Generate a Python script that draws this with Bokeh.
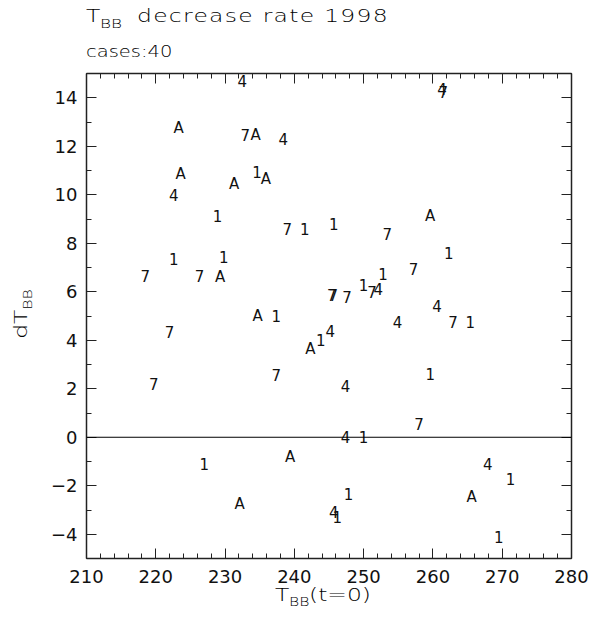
from bokeh.plotting import figure
from bokeh.models import Range1d, LinearAxis, FixedTicker, Span, ColumnDataSource, Div
from bokeh.layouts import column
from bokeh.core.properties import value
from bokeh.embed import file_html
from bokeh.resources import INLINE

# ---- data ----
x_1 = [234.6, 228.9, 241.5, 245.7, 262.3, 222.6, 229.8, 237.4, 243.8, 250.0,
       252.8, 265.4, 259.6, 250.0, 227.0, 247.8, 246.2, 271.2, 269.5]
y_1 = [10.93, 9.14, 8.6, 8.8, 7.58, 7.36, 7.42, 5.02, 3.99, 6.26,
       6.74, 4.74, 2.61, 0.0, -1.09, -2.33, -3.3, -1.71, -4.12]

x_4 = [232.5, 261.3, 238.4, 222.6, 245.2, 252.1, 260.6, 254.9, 247.4, 247.4, 245.7, 267.9]
y_4 = [14.71, 14.38, 12.3, 9.97, 4.4, 6.12, 5.43, 4.74, 2.13, 0.0, -3.09, -1.09]

x_7 = [261.5, 232.9, 238.96, 253.4, 218.5, 226.3, 222.0, 219.7, 237.4, 245.4,
       245.6, 247.6, 251.2, 257.2, 262.9, 258.0]
y_7 = [14.25, 12.45, 8.6, 8.39, 6.67, 6.67, 4.33, 2.2, 2.55, 5.85,
       5.87, 5.78, 5.98, 6.95, 4.74, 0.55]

x_A = [223.3, 234.4, 223.6, 231.3, 235.9, 259.6, 229.3, 234.7, 242.3, 239.4, 232.1, 265.6]
y_A = [12.77, 12.45, 10.86, 10.45, 10.66, 9.13, 6.6, 5.02, 3.65, -0.82, -2.74, -2.47]

x_ticks = [210, 220, 230, 240, 250, 260, 270, 280]
x_minor = list(range(210, 281, 2))
y_ticks = [-4, -2, 0, 2, 4, 6, 8, 10, 12, 14]
y_minor = list(range(-5, 16))

title_main = "decrease rate 1998"
title_var = "T"
title_sub = "BB"
subtitle = "cases:40"
xlabel_main, xlabel_sub, xlabel_tail = "T", "BB", "(t=0)"
ylabel_main, ylabel_sub = "dT", "BB"

FONT = "DejaVu Sans"
INK = "#111111"
W, H = 593, 626

p = figure(width=W, height=H, output_backend="svg", toolbar_location=None,
           x_range=Range1d(210, 280), y_range=Range1d(-5, 15),
           min_border_left=86, min_border_right=22, min_border_top=73, min_border_bottom=68,
           x_axis_location=None, y_axis_location=None)
p.xgrid.visible = False
p.ygrid.visible = False
p.outline_line_color = None
p.background_fill_color = "white"
p.border_fill_color = "white"

def style_axis(ax, ticks, minor, show_labels, standoff):
    ax.ticker = FixedTicker(ticks=ticks, minor_ticks=minor)
    ax.axis_line_color = "#222222"
    ax.axis_line_width = 1.5
    ax.major_tick_line_color = "#222222"
    ax.minor_tick_line_color = "#222222"
    ax.major_tick_in = 10
    ax.major_tick_out = 0
    ax.minor_tick_in = 5
    ax.minor_tick_out = 0
    ax.major_label_text_font = FONT
    ax.major_label_text_color = INK
    ax.major_label_text_font_size = "18px" if show_labels else "0px"
    ax.major_label_standoff = standoff
    if not show_labels:
        ax.major_label_text_alpha = 0

ax_b = LinearAxis(); style_axis(ax_b, x_ticks, x_minor, True, 11); p.add_layout(ax_b, "below")
ax_t = LinearAxis(); style_axis(ax_t, x_ticks, x_minor, False, 0); p.add_layout(ax_t, "above")
ax_l = LinearAxis(); style_axis(ax_l, y_ticks, y_minor, True, 9); p.add_layout(ax_l, "left")
ax_r = LinearAxis(); style_axis(ax_r, y_ticks, y_minor, False, 0); p.add_layout(ax_r, "right")

p.add_layout(Span(location=0, dimension="width", line_color="black", line_width=1))

for xs, ys, ch in [(x_1, y_1, "1"), (x_4, y_4, "4"), (x_7, y_7, "7"), (x_A, y_A, "A")]:
    src = ColumnDataSource(dict(x=xs, y=ys, t=[ch] * len(xs)))
    p.text(x="x", y="y", text="t", source=src, text_font=value(FONT),
           text_font_size="15px", text_color=INK, text_align="center",
           text_baseline="middle")

def span(left, top, size, text, extra=""):
    return (f'<div style="position:absolute;left:{left}px;top:{top}px;font-size:{size}px;'
            f'line-height:1;white-space:nowrap;transform-origin:0 0;transform:scaleX(1.3);{extra}">{text}</div>')

ylab = (f'<div style="position:absolute;left:22px;top:314px;font-size:18px;line-height:18px;'
        f'white-space:nowrap;transform:translate(-50%,-50%) rotate(-90deg) scaleX(1.3);">'
        f'{ylabel_main}<span style="font-size:12px;position:relative;top:5px;">{ylabel_sub}</span></div>')

html = (f'<div style="position:relative;width:{W}px;height:{H}px;font-family:\'{FONT}\';'
        f'font-weight:200;color:#000000;">'
        + span(86, 7, 18, title_var)
        + span(100, 17, 13, title_sub)
        + span(137, 7, 18, title_main, "letter-spacing:1px;")
        + span(86, 45, 15, subtitle)
        + span(275, 586, 18, xlabel_main)
        + span(289, 596, 12, xlabel_sub)
        + span(309, 586, 18, xlabel_tail)
        + ylab
        + '</div>')

overlay = Div(text=html, width=W, height=H, margin=(-H, 0, 0, 0))

layout = column(p, overlay, spacing=0)
open("out.html", "w").write(file_html(layout, INLINE))
